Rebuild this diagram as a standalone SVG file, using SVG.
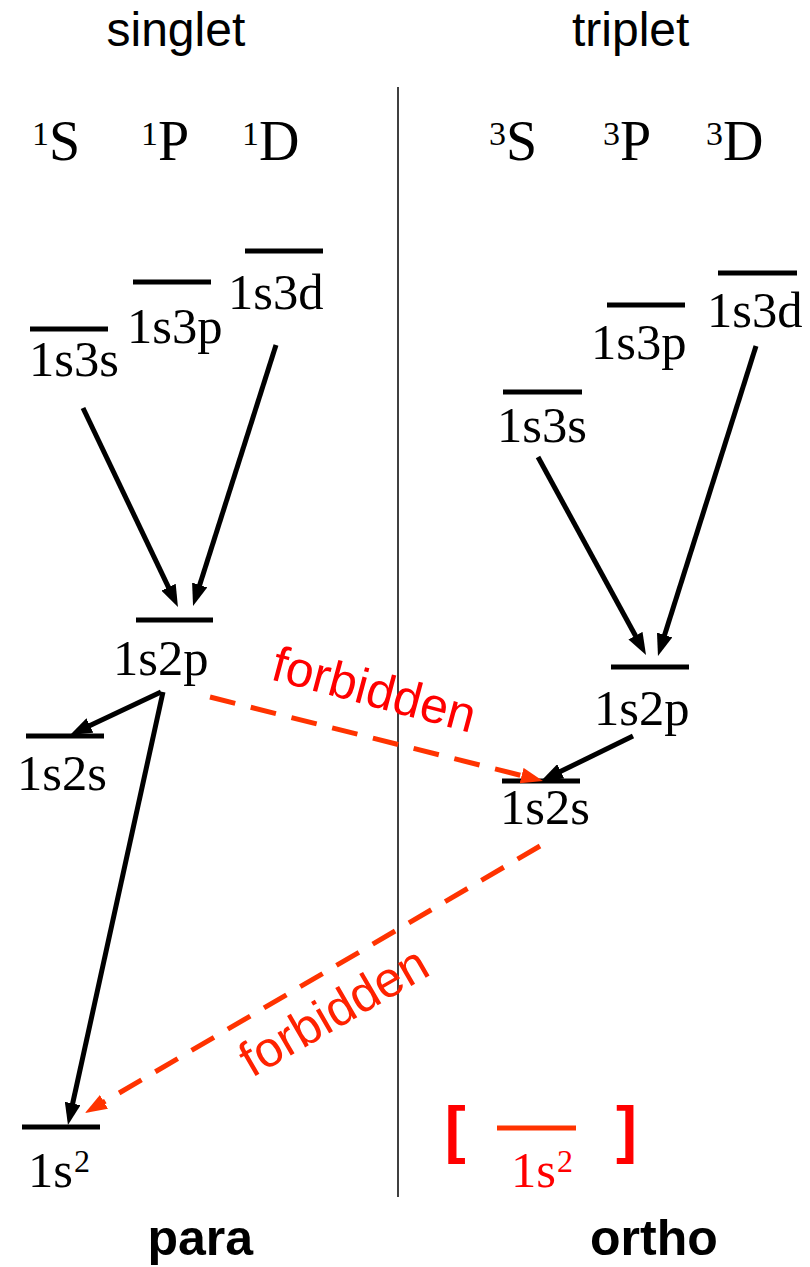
<svg xmlns="http://www.w3.org/2000/svg" width="810" height="1267" viewBox="0 0 810 1267">
<style>
.hdr{font-family:"Liberation Sans",Arial,sans-serif;font-size:48px;fill:#000}
.bold{font-family:"Liberation Sans",Arial,sans-serif;font-size:50px;font-weight:bold;fill:#000}
.term{font-family:"Liberation Serif","Times New Roman",serif;font-size:56px;fill:#000}
.lab{font-family:"Liberation Serif","Times New Roman",serif;font-size:50px;fill:#000}
.sup2{font-family:"Liberation Serif","Times New Roman",serif;font-size:32px;fill:#000}
.lvl{stroke:#000;stroke-width:5}
.arr{stroke:#000;stroke-width:5;fill:none;marker-end:url(#ah)}
.darr{stroke:#ff3300;stroke-width:5;stroke-dasharray:26 16;fill:none;marker-end:url(#rh)}
.forb{font-family:"Liberation Sans",Arial,sans-serif;font-size:50px}
.red{fill:#ff0000}
</style>
<defs>
<marker id="ah" markerUnits="userSpaceOnUse" viewBox="0 0 22 16" markerWidth="22" markerHeight="16" refX="4" refY="8" orient="auto">
<path d="M0,0 L22,8 L0,16 z" fill="#000"/>
</marker>
<marker id="rh" markerUnits="userSpaceOnUse" viewBox="0 0 22 16" markerWidth="22" markerHeight="16" refX="4" refY="8" orient="auto">
<path d="M0,0 L22,8 L0,16 z" fill="#ff3300"/>
</marker>
</defs>
<rect width="810" height="1267" fill="#fff"/>

<g id="headers">
<text class="hdr" x="106.5" y="46">singlet</text>
<text class="hdr" x="572" y="46">triplet</text>
<text class="bold" x="147.5" y="1255">para</text>
<text class="bold" x="590" y="1255">ortho</text>
</g>

<line id="divider" x1="398" y1="87" x2="398" y2="1197" stroke="#000" stroke-width="1.5"/>

<g id="terms">
<text class="term" x="32" y="160"><tspan font-size="34" dy="-15">1</tspan><tspan dy="15">S</tspan></text>
<text class="term" x="141" y="160"><tspan font-size="34" dy="-15">1</tspan><tspan dy="15">P</tspan></text>
<text class="term" x="242" y="160"><tspan font-size="34" dy="-15">1</tspan><tspan dy="15">D</tspan></text>
<text class="term" x="489" y="160"><tspan font-size="34" dy="-15">3</tspan><tspan dy="15">S</tspan></text>
<text class="term" x="603" y="160"><tspan font-size="34" dy="-15">3</tspan><tspan dy="15">P</tspan></text>
<text class="term" x="706" y="160"><tspan font-size="34" dy="-15">3</tspan><tspan dy="15">D</tspan></text>
</g>

<g id="s-1s3s"><line class="lvl" x1="30" y1="329" x2="108" y2="329"/><text class="lab" x="29" y="376" textLength="90" lengthAdjust="spacingAndGlyphs">1s3s</text></g>
<g id="s-1s3p"><line class="lvl" x1="133" y1="282" x2="211" y2="282"/><text class="lab" x="127" y="343" textLength="95.6" lengthAdjust="spacingAndGlyphs">1s3p</text></g>
<g id="s-1s3d"><line class="lvl" x1="245" y1="251" x2="323" y2="251"/><text class="lab" x="228" y="309" textLength="95.6" lengthAdjust="spacingAndGlyphs">1s3d</text></g>
<g id="s-1s2p"><line class="lvl" x1="136" y1="620" x2="213" y2="620"/><text class="lab" x="113" y="675" textLength="95.6" lengthAdjust="spacingAndGlyphs">1s2p</text></g>
<g id="s-1s2s"><line class="lvl" x1="26" y1="736" x2="104" y2="736"/><text class="lab" x="17" y="790" textLength="90" lengthAdjust="spacingAndGlyphs">1s2s</text></g>
<g id="s-1s2"><line class="lvl" x1="22" y1="1127" x2="100" y2="1127"/><text class="lab" x="28" y="1187" textLength="45" lengthAdjust="spacingAndGlyphs">1s</text><text class="sup2" x="74" y="1172">2</text></g>

<g id="t-1s3s"><line class="lvl" x1="503" y1="392" x2="582" y2="392"/><text class="lab" x="497" y="442" textLength="90" lengthAdjust="spacingAndGlyphs">1s3s</text></g>
<g id="t-1s3p"><line class="lvl" x1="607" y1="305" x2="685" y2="305"/><text class="lab" x="591" y="359" textLength="95.6" lengthAdjust="spacingAndGlyphs">1s3p</text></g>
<g id="t-1s3d"><line class="lvl" x1="718" y1="273" x2="797" y2="273"/><text class="lab" x="707" y="327" textLength="95.6" lengthAdjust="spacingAndGlyphs">1s3d</text></g>
<g id="t-1s2p"><line class="lvl" x1="611" y1="667" x2="689" y2="667"/><text class="lab" x="594" y="725" textLength="95.6" lengthAdjust="spacingAndGlyphs">1s2p</text></g>
<g id="t-1s2s"><line class="lvl" x1="502" y1="781" x2="580" y2="781"/><text class="lab" x="500" y="824" textLength="90" lengthAdjust="spacingAndGlyphs">1s2s</text></g>
<g id="t-1s2">
<text x="444.7" y="1151" font-family="Liberation Sans,Arial,sans-serif" font-size="63" font-weight="bold" fill="#ff0000">[</text>
<line x1="497" y1="1128" x2="576" y2="1128" stroke="#ff3300" stroke-width="5"/>
<text class="lab red" x="511" y="1187" textLength="45" lengthAdjust="spacingAndGlyphs">1s</text><text class="sup2 red" x="557" y="1172">2</text>
<text x="615.9" y="1151" font-family="Liberation Sans,Arial,sans-serif" font-size="63" font-weight="bold" fill="#ff0000">]</text>
</g>

<g id="connectors">
<line class="arr" x1="83" y1="408" x2="170.2" y2="590.8"/>
<line class="arr" x1="276" y1="345" x2="198.5" y2="588.8"/>
<line class="arr" x1="161" y1="692" x2="86.3" y2="727.3"/>
<line class="arr" x1="163" y1="692" x2="71.8" y2="1107.4"/>
<line class="arr" x1="538" y1="457" x2="637.4" y2="639.2"/>
<line class="arr" x1="756" y1="346" x2="663.4" y2="638.8"/>
<line class="arr" x1="633" y1="736" x2="557.2" y2="773.1"/>
<line class="darr" x1="210" y1="697" x2="525.5" y2="776.6"/>
<line class="darr" x1="540" y1="846" x2="100.5" y2="1103.9"/>
<text class="forb" fill="#ff0000" text-anchor="middle" transform="translate(370,706) rotate(15)">forbidden</text>
<text class="forb" fill="#ff2200" text-anchor="middle" transform="translate(342,1026) rotate(-30)">forbidden</text>
</g>
</svg>
